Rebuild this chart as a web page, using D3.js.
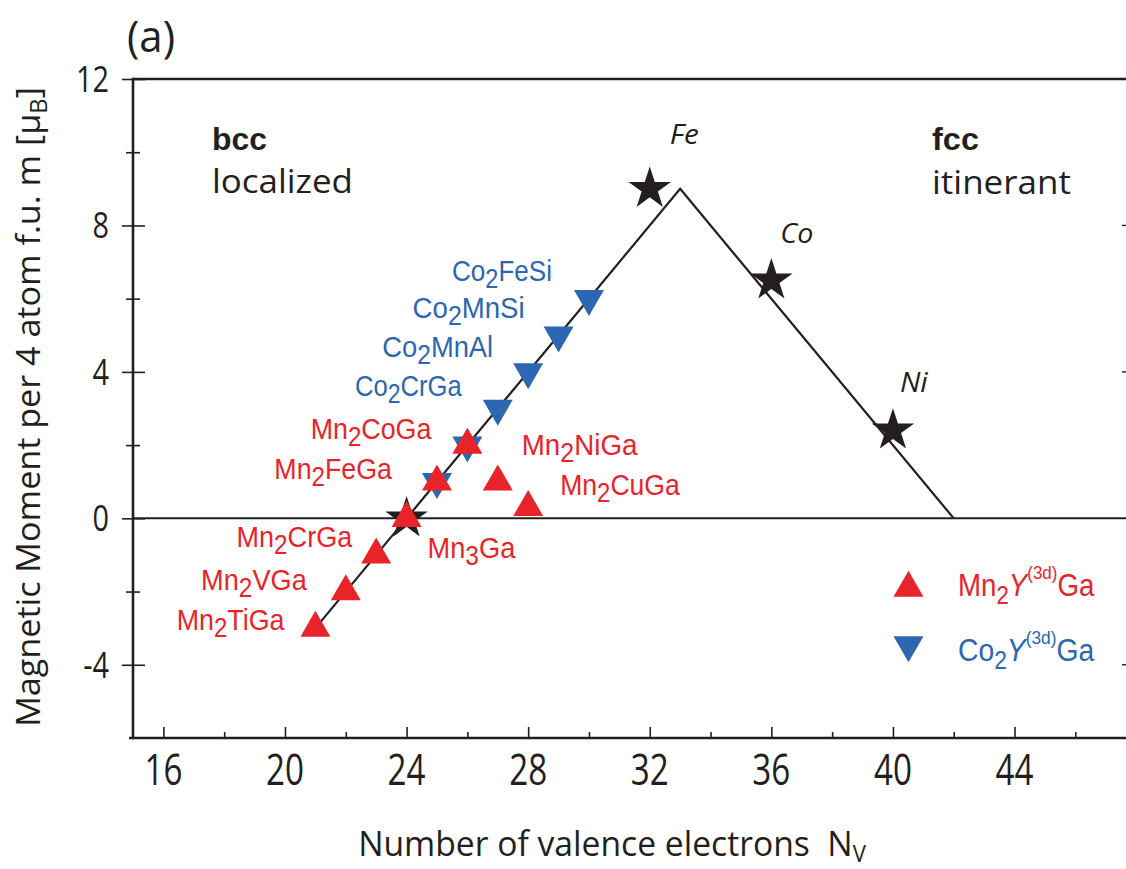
<!DOCTYPE html>
<html>
<head>
<meta charset="utf-8">
<script src="https://cdn.jsdelivr.net/npm/d3@7"></script>
<style>
body { margin: 0; background: #fff; }
svg { display: block; }
</style>
</head>
<body>
<div id="chart"></div>
<script>
// Slater-Pauling line
let lineNv = [21, 24, 33, 42];
let lineM = [-3, 0, 9, 0];

// Mn2Y(3d)Ga compounds
let mnNames = ['Mn2TiGa', 'Mn2VGa', 'Mn2CrGa', 'Mn3Ga', 'Mn2FeGa', 'Mn2CoGa', 'Mn2NiGa', 'Mn2CuGa'];
let mnNv = [21, 22, 23, 24, 25, 26, 27, 28];
let mnM = [-3, -2, -1, 0, 1, 2, 1, 0.3];

// Co2Y(3d)Ga compounds
let coNames = ['', '', 'Co2CrGa', 'Co2MnAl', 'Co2MnSi', 'Co2FeSi'];
let coNv = [25, 26, 27, 28, 29, 30];
let coM = [1, 2, 3, 4, 5, 6];

// elements (stars)
let elNames = ['', 'Fe', 'Co', 'Ni'];
let elNv = [24, 32, 36, 40];
let elM = [0, 9, 6.5, 2.4];

let xTicks = [16, 20, 24, 28, 32, 36, 40, 44];
let xMinor = [18, 22, 26, 30, 34, 38, 42, 46];
let yTicks = [12, 8, 4, 0, -4];
let yMinor = [10, 6, 2, -2];

let width = 1126;
let height = 869;
let red = '#e8242a';
let blue = '#2d66b1';
let ink = '#231f20';
let narrow = '"Liberation Sans Narrow", "Liberation Sans", Arial, sans-serif';
let plain = '"Open Sans", "DejaVu Sans", sans-serif';

// label offsets from marker in px: [dx, dy, anchor, width]
let mnLabel = {
    Mn2TiGa: [-31, 2, 'end', 108],
    Mn2VGa: [-39, -2, 'end', 106],
    Mn2CrGa: [-24, -8, 'end', 116],
    Mn3Ga: [21, 40, 'start', 88],
    Mn2FeGa: [-45, -3, 'end', 118],
    Mn2CoGa: [-36, -6, 'end', 121],
    Mn2NiGa: [24, -27, 'start', 116],
    Mn2CuGa: [32, -12, 'start', 120]
};
let coLabel = {
    Co2CrGa: [-36, -13, 'end', 107],
    Co2MnAl: [-35, -15, 'end', 111],
    Co2MnSi: [-34, -17, 'end', 112],
    Co2FeSi: [-37, -18, 'end', 100]
};
let elLabel = {
    Fe: [20, -45, 29],
    Co: [9, -37, 33],
    Ni: [7, -38, 29]
};

let svg = d3
    .select('#chart')
    .append('svg')
    .attr('width', width)
    .attr('height', height)
    .style('background', 'white');

let xScale = d3.scaleLinear().domain([15, 47.7]).range([133, 1127]);
let yScale = d3.scaleLinear().domain([-6, 12]).range([738, 79]);

function fit(g, w) {
    let bw = g.node().getBBox().width;
    g.attr('transform', `${g.attr('transform')} scale(${w / bw},1)`);
    return w / bw;
}

function chem(g, name, size, color, anchor) {
    let t = g.append('text')
        .attr('font-family', narrow)
        .attr('font-size', size)
        .attr('fill', color)
        .attr('text-anchor', anchor);
    let parts = name.split(/(\d)/).filter(s => s.length);
    let down = false;
    parts.forEach(p => {
        let isNum = /\d/.test(p);
        let ts = t.append('tspan').text(p);
        if (isNum) {
            ts.attr('dy', 7).attr('font-size', size * 0.9);
            down = true;
        } else if (down) {
            ts.attr('dy', -7);
            down = false;
        }
    });
    return t;
}

// ---- axes ----
let xMajor = d3.axisBottom(xScale).tickValues(xTicks).tickSize(-11).tickFormat('');
let xMin = d3.axisBottom(xScale).tickValues(xMinor).tickSize(-6).tickFormat('');
svg.append('g').attr('transform', `translate(0,${yScale(-6)})`).call(xMajor);
svg.append('g').attr('transform', `translate(0,${yScale(-6)})`).call(xMin);

let yMajor = d3.axisLeft(yScale).tickValues(yTicks).tickSize(11).tickFormat('');
let yMin = d3.axisLeft(yScale).tickValues(yMinor).tickSize(7).tickFormat('');
svg.append('g').attr('class', 'yMajor').attr('transform', `translate(${xScale(15)},0)`).call(yMajor);
svg.append('g').attr('class', 'yMinor').attr('transform', `translate(${xScale(15)},0)`).call(yMin);
svg.selectAll('.yMajor .tick line').attr('x1', 12);
svg.selectAll('.yMinor .tick line').attr('x1', 7);
svg.selectAll('.domain').remove();
svg.selectAll('.tick line').attr('stroke', ink).attr('stroke-width', 1.6);

// right side ticks, just visible at the edge
svg.selectAll('.rTick')
    .data([8, 4, -4])
    .enter()
    .append('line')
    .attr('x1', 1122).attr('x2', 1127)
    .attr('y1', d => yScale(d)).attr('y2', d => yScale(d))
    .attr('stroke', ink).attr('stroke-width', 1.4);

// frame: top, left, bottom
svg.append('line')
    .attr('x1', xScale(15)).attr('x2', width)
    .attr('y1', yScale(12)).attr('y2', yScale(12))
    .attr('stroke', ink).attr('stroke-width', 2.6);
svg.append('line')
    .attr('x1', xScale(15)).attr('x2', xScale(15))
    .attr('y1', yScale(12) - 1.3).attr('y2', yScale(-6) + 1.3)
    .attr('stroke', ink).attr('stroke-width', 2.6);
svg.append('line')
    .attr('x1', xScale(15) - 4).attr('x2', width)
    .attr('y1', yScale(-6)).attr('y2', yScale(-6))
    .attr('stroke', ink).attr('stroke-width', 2.6);

// zero line
svg.append('line')
    .attr('x1', xScale(15)).attr('x2', width)
    .attr('y1', yScale(0)).attr('y2', yScale(0))
    .attr('stroke', ink).attr('stroke-width', 2);

// tick labels
let kY;
yTicks.forEach((v, i) => {
    let g = svg.append('g').attr('transform', `translate(109,${yScale(v) + 13})`);
    g.append('text')
        .text(v)
        .attr('font-family', plain)
        .attr('font-size', 36)
        .attr('fill', ink)
        .attr('text-anchor', 'end');
    if (i === 0) {
        kY = fit(g, 33);
    } else {
        g.attr('transform', `${g.attr('transform')} scale(${kY},1)`);
    }
});
let kX;
xTicks.forEach((v, i) => {
    let g = svg.append('g').attr('transform', `translate(${xScale(v)},785)`);
    g.append('text')
        .text(v)
        .attr('font-family', plain)
        .attr('font-size', 43)
        .attr('fill', ink)
        .attr('text-anchor', 'middle');
    if (i === 0) {
        kX = fit(g, 38);
    } else {
        g.attr('transform', `${g.attr('transform')} scale(${kX},1)`);
    }
});

// axis titles
let xt = svg.append('g').attr('transform', 'translate(612,856)');
let xtText = xt.append('text')
    .attr('font-family', plain)
    .attr('font-size', 35)
    .attr('fill', ink)
    .attr('text-anchor', 'middle')
    .style('white-space', 'pre');
xtText.append('tspan').text('Number of valence electrons  N');
xtText.append('tspan').text('V').attr('dy', 6).attr('font-size', 23);
fit(xt, 508);

let yt = svg.append('g').attr('transform', 'translate(40,407) rotate(-90)');
let ytText = yt.append('text')
    .attr('font-family', plain)
    .attr('font-size', 33)
    .attr('fill', ink)
    .attr('text-anchor', 'middle');
ytText.append('tspan').text('Magnetic Moment per 4 atom f.u. m [\u03bc');
ytText.append('tspan').text('B').attr('dy', 7).attr('font-size', 23);
ytText.append('tspan').text(']').attr('dy', -7);
fit(yt, 640);

// panel letter and region notes
let pa = svg.append('g').attr('transform', 'translate(127,52)');
pa.append('text').text('(a)')
    .attr('font-family', plain).attr('font-size', 44).attr('fill', ink);
fit(pa, 48);

let notes = [
    { txt: 'bcc', x: 212, y: 150, w: 55, bold: true },
    { txt: 'localized', x: 212, y: 193, w: 141, bold: false },
    { txt: 'fcc', x: 932, y: 150, w: 47, bold: true },
    { txt: 'itinerant', x: 932, y: 194, w: 139, bold: false }
];
notes.forEach(n => {
    let g = svg.append('g').attr('transform', `translate(${n.x},${n.y})`);
    g.append('text').text(n.txt)
        .attr('font-family', n.bold ? '"Liberation Sans", Arial, sans-serif' : plain)
        .attr('font-weight', n.bold ? 'bold' : 'normal')
        .attr('font-size', n.bold ? 31 : 33)
        .attr('fill', ink);
    fit(g, n.w);
});

// ---- data ----
let line = d3.line().x(d => xScale(d[0])).y(d => yScale(d[1]));
svg.append('path')
    .datum(lineNv.map((v, i) => [v, lineM[i]]))
    .attr('d', line)
    .attr('fill', 'none')
    .attr('stroke', ink)
    .attr('stroke-width', 2.2)
    .attr('stroke-linejoin', 'miter');

let tri = d3.symbol(d3.symbolTriangle, 390);
let star = d3.symbol(d3.symbolStar, 560);

svg.selectAll('.coPt')
    .data(coNv)
    .enter()
    .append('path')
    .attr('class', 'coPt')
    .attr('d', tri)
    .attr('fill', blue)
    .attr('transform', (d, i) => `translate(${xScale(d)},${yScale(coM[i])}) rotate(180)`);

svg.selectAll('.elPt')
    .data(elNv)
    .enter()
    .append('path')
    .attr('class', 'elPt')
    .attr('d', star)
    .attr('fill', ink)
    .attr('transform', (d, i) => `translate(${xScale(d)},${yScale(elM[i])})`);

svg.selectAll('.mnPt')
    .data(mnNv)
    .enter()
    .append('path')
    .attr('class', 'mnPt')
    .attr('d', tri)
    .attr('fill', red)
    .attr('transform', (d, i) => `translate(${xScale(d)},${yScale(mnM[i])})`);

// point labels
mnNames.forEach((name, i) => {
    let o = mnLabel[name];
    let g = svg.append('g')
        .attr('transform', `translate(${xScale(mnNv[i]) + o[0]},${yScale(mnM[i]) + o[1]})`);
    chem(g, name, 30, red, o[2]);
    fit(g, o[3]);
});
coNames.forEach((name, i) => {
    if (!name) return;
    let o = coLabel[name];
    let g = svg.append('g')
        .attr('transform', `translate(${xScale(coNv[i]) + o[0]},${yScale(coM[i]) + o[1]})`);
    chem(g, name, 30, blue, o[2]);
    fit(g, o[3]);
});
elNames.forEach((name, i) => {
    if (!name) return;
    let o = elLabel[name];
    let g = svg.append('g')
        .attr('transform', `translate(${xScale(elNv[i]) + o[0]},${yScale(elM[i]) + o[1]})`);
    g.append('text').text(name)
        .attr('font-family', plain)
        .attr('font-style', 'italic')
        .attr('font-size', 27)
        .attr('fill', ink);
    fit(g, o[2]);
});

// ---- legend ----
let legend = [
    { base: 'Mn', color: red, flip: false, y: 596 },
    { base: 'Co', color: blue, flip: true, y: 661 }
];
legend.forEach(l => {
    svg.append('path')
        .attr('d', tri)
        .attr('fill', l.color)
        .attr('transform', l.flip
            ? `translate(908.5,${l.y - 16}) rotate(180)`
            : `translate(908.5,${l.y - 8})`);
    let g = svg.append('g').attr('transform', `translate(958,${l.y})`);
    let t = g.append('text')
        .attr('font-family', narrow)
        .attr('font-size', 31)
        .attr('fill', l.color);
    t.append('tspan').text(l.base);
    t.append('tspan').text('2').attr('dy', 8).attr('font-size', 25);
    t.append('tspan').text('Y').attr('dy', -8).attr('font-style', 'italic');
    t.append('tspan').text('(3d)').attr('dy', -17).attr('font-size', 19);
    t.append('tspan').text('Ga').attr('dy', 17);
    fit(g, 137);
});
</script>
</body>
</html>
